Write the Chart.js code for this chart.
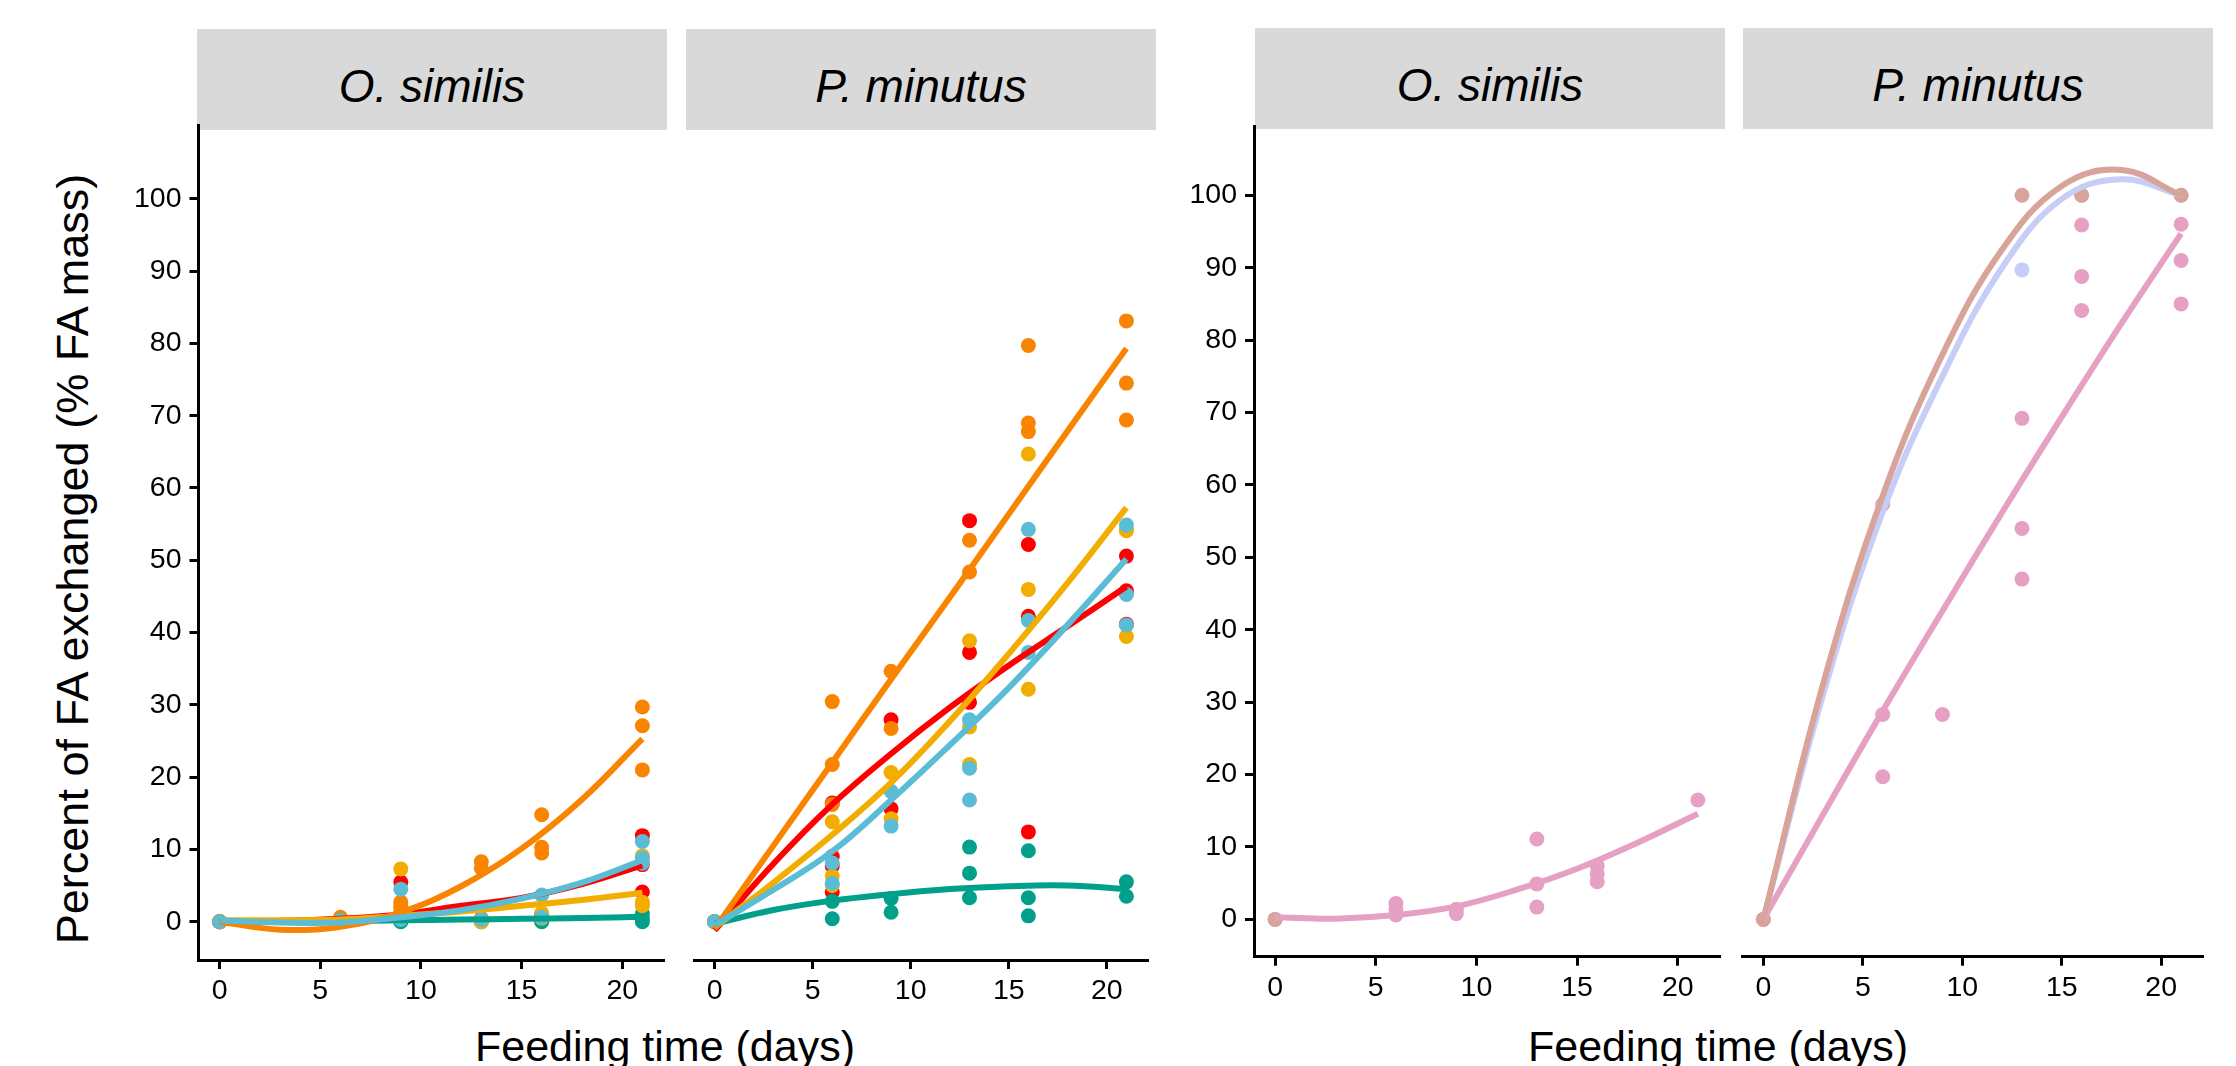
<!DOCTYPE html>
<html>
<head>
<meta charset="utf-8">
<title>FA exchange over feeding time</title>
<script src="https://cdn.jsdelivr.net/npm/chart.js@4.4.0/dist/chart.umd.min.js"></script>
<style>
  html, body { margin: 0; padding: 0; background: #fff; }
  body { width: 2236px; height: 1066px; position: relative; overflow: hidden; font-family: 'Liberation Sans', Arial, sans-serif; color: #000; }
  canvas { position: absolute; }
  .strip { position: absolute; background: #d9d9d9; }
  .strip span { position: absolute; left: 0; right: 0; text-align: center; font-style: italic; font-size: 46px; line-height: 46px; white-space: nowrap; }
  .xtitle { position: absolute; font-size: 43px; line-height: 43px; white-space: nowrap; transform: translateX(-50%); }
  .ytitle { position: absolute; font-size: 45px; line-height: 45px; white-space: nowrap; transform: translate(-50%, -50%) rotate(-90deg); }
</style>
</head>
<body>

<div class="strip" style="left:197px; top:29px; width:470px; height:101px;"><span style="top:34px;">O. similis</span></div>
<div class="strip" style="left:686px; top:29px; width:470px; height:101px;"><span style="top:34px;">P. minutus</span></div>
<div class="strip" style="left:1255px; top:28px; width:470px; height:101px;"><span style="top:34px;">O. similis</span></div>
<div class="strip" style="left:1743px; top:28px; width:470px; height:101px;"><span style="top:34px;">P. minutus</span></div>

<div class="ytitle" style="left:72px; top:559px;">Percent of FA exchanged (% FA mass)</div>
<div class="xtitle" style="left:665px; top:1025px;">Feeding time (days)</div>
<div class="xtitle" style="left:1718px; top:1025px;">Feeding time (days)</div>

<script>
// axis ticks
const dayTicks = [0, 5, 10, 15, 20];
const pctTicks = [0, 10, 20, 30, 40, 50, 60, 70, 80, 90, 100];
// days at which the fitted curves are sampled
const fitDays = [0, 3, 6, 9, 12, 15, 18, 21];

// colours (Darjeeling1 for the left pair, GrandBudapest2 for the right pair)
const leftColours = ['#FF0000', '#00A08A', '#F2AD00', '#F98400', '#5BBCD6'];
const rightColours = ['#E6A0C4', '#C6CDF7', '#D8A499'];

// ---- left pair, O. similis: [day, %] ----
const simRed = [[0, 0], [0, 0], [9, 5.5], [9, 1.0], [13, 0.4], [16, 1.0], [16, 0.3], [21, 11.9], [21, 7.9], [21, 4.1]];
const simTeal = [[0, 0], [6, 0], [9, 0], [9, 0.1], [13, 0], [13, 0.2], [16, 0], [16, 0.1], [21, 1.1], [21, 0.4], [21, 0]];
const simYellow = [[0, 0], [6, 0.3], [9, 7.3], [9, 1.8], [13, 0], [13, 0.3], [16, 0.5], [16, 1.2], [21, 9.1], [21, 2.7], [21, 2.2]];
const simOrange = [[0, 0], [6, 0.6], [6, 0.4], [9, 2.7], [9, 2.1], [9, 1.2], [13, 8.3], [13, 7.4], [16, 14.8], [16, 10.3], [16, 9.5], [21, 29.7], [21, 27.1], [21, 21.0]];
const simBlue = [[0, 0], [6, 0.2], [9, 4.5], [9, 0.3], [13, 0.3], [16, 3.7], [16, 0.6], [21, 11.1], [21, 8.8], [21, 8.1]];

const simRedFit = [0, 0.1, 0.4, 1.0, 2.2, 3.3, 5.2, 7.8];
const simTealFit = [0, 0.05, 0.1, 0.2, 0.3, 0.4, 0.5, 0.7];
const simYellowFit = [0.2, 0.2, 0.3, 0.8, 1.4, 2.2, 3.0, 4.0];
const simOrangeFit = [0, -1.1, -0.7, 1.3, 4.9, 10.1, 16.9, 25.3];
const simBlueFit = [0.2, -0.1, -0.1, 0.6, 1.6, 3.2, 5.4, 8.5];

// ---- left pair, P. minutus ----
const minRed = [[0, 0], [6, 16.4], [6, 9.0], [6, 7.7], [6, 4.1], [9, 27.9], [9, 15.6], [13, 55.4], [13, 37.2], [13, 30.3], [16, 52.1], [16, 42.2], [16, 12.4], [21, 50.5], [21, 45.7], [21, 41.1]];
const minTeal = [[0, 0], [6, 2.8], [6, 0.4], [9, 3.2], [9, 1.3], [13, 10.3], [13, 6.7], [13, 3.3], [16, 9.8], [16, 3.3], [16, 0.8], [21, 5.5], [21, 3.5]];
const minYellow = [[0, 0], [6, 13.8], [6, 6.3], [6, 5.0], [9, 20.6], [9, 14.2], [13, 38.8], [13, 26.9], [13, 21.7], [16, 64.6], [16, 45.9], [16, 32.1], [21, 54.2], [21, 54.0], [21, 39.4]];
const minOrange = [[0, 0], [6, 30.4], [6, 21.7], [6, 16.2], [9, 34.6], [9, 26.7], [13, 52.7], [13, 48.3], [16, 79.6], [16, 68.9], [16, 67.7], [21, 83.0], [21, 74.4], [21, 69.3]];
const minBlue = [[0, 0], [6, 8.1], [6, 5.3], [9, 18.0], [9, 13.2], [13, 27.9], [13, 21.2], [13, 16.8], [16, 54.2], [16, 41.6], [16, 37.2], [21, 54.8], [21, 45.2], [21, 41.0]];

const minRedFit = [-1.2, 8.0, 16.2, 23.2, 29.6, 35.4, 40.8, 46.3];
const minTealFit = [-0.3, 1.6, 2.9, 3.8, 4.5, 4.9, 5.0, 4.5];
const minYellowFit = [-0.8, 5.4, 12.0, 19.2, 27.7, 37.0, 46.8, 57.2];
const minOrangeFit = [-1.0, 10.5, 22.0, 33.5, 44.8, 56.3, 67.8, 79.2];
const minBlueFit = [-0.5, 4.4, 9.7, 16.8, 24.4, 32.3, 41.0, 50.1];

// ---- right pair ----
const simPink = [[0, 0], [6, 2.2], [6, 1.4], [6, 0.6], [9, 1.4], [9, 0.8], [13, 11.1], [13, 4.9], [13, 1.7], [16, 7.4], [16, 6.3], [16, 5.2], [21, 16.5]];
const simLavender = [[0, 0]];
const simTan = [[0, 0]];
const simPinkFit = [0.3, 0.1, 0.6, 1.8, 4.1, 7.0, 10.6, 14.6];

const minPink = [[0, 0], [6, 57.3], [6, 28.3], [6, 19.7], [9, 28.3], [13, 69.2], [13, 54.0], [13, 47.0], [16, 95.9], [16, 88.8], [16, 84.1], [21, 96.0], [21, 91.0], [21, 85.0]];
const minLavender = [[0, 0], [13, 89.7], [16, 100], [21, 100]];
const minTan = [[0, 0], [13, 100], [16, 100], [21, 100]];
const minPinkFit = [0, 14.5, 28.8, 42.6, 56.2, 69.4, 82.3, 94.7];
const minLavenderFit = [0, 31.0, 56.3, 75.0, 90.0, 99.5, 102.2, 100];
const minTanFit = [0, 32.5, 58.5, 78.0, 92.5, 101.3, 103.5, 100];

Chart.defaults.font.family = "'Liberation Sans', Arial, sans-serif";
Chart.defaults.color = '#000';

function pts(list) {
  return list.map(([x, y]) => ({ x: x, y: y }));
}

function curve(vals) {
  return fitDays.map((x, i) => ({ x: x, y: vals[i] }));
}

// one facet panel on its own canvas; f holds canvas box and plot area edges
function buildPanel(f, groups) {
  const cv = document.createElement('canvas');
  cv.width = f.width;
  cv.height = f.height;
  cv.style.left = f.left + 'px';
  cv.style.top = f.top + 'px';
  document.body.appendChild(cv);

  const n = groups.length;
  const datasets = [];
  groups.forEach((g, i) => {
    datasets.push({
      data: pts(g.obs),
      showLine: false,
      backgroundColor: g.colour,
      borderColor: g.colour,
      pointRadius: 7.5,
      pointBorderWidth: 0,
      pointHoverRadius: 7.5,
      order: 20 + n - i
    });
    if (g.fit) {
      datasets.push({
        data: curve(g.fit),
        showLine: true,
        borderColor: g.colour,
        borderWidth: 6,
        pointRadius: 0,
        tension: 0.4,
        fill: false,
        order: n - i
      });
    }
  });

  const axisGrid = { drawOnChartArea: false, drawTicks: true, tickLength: 9, lineWidth: 3, color: '#000' };
  const axisBorder = { display: true, width: 3, color: '#000' };

  new Chart(cv, {
    type: 'scatter',
    data: { datasets: datasets },
    options: {
      responsive: false,
      animation: false,
      devicePixelRatio: 1,
      events: [],
      layout: {
        padding: {
          left: f.showY ? 0 : f.areaLeft - f.left,
          right: f.left + f.width - f.areaRight,
          top: f.areaTop - f.top,
          bottom: 0
        }
      },
      plugins: { legend: { display: false }, tooltip: { enabled: false } },
      scales: {
        x: {
          type: 'linear',
          min: -1.05,
          max: 22.05,
          afterBuildTicks: s => { s.ticks = dayTicks.map(v => ({ value: v })); },
          afterFit: s => { s.height = f.top + f.height - f.areaBottom; },
          grid: axisGrid,
          border: axisBorder,
          ticks: { font: { size: 28.5 }, color: '#000', padding: 5, maxRotation: 0, autoSkip: false }
        },
        y: {
          type: 'linear',
          display: f.showY,
          min: f.yMin,
          max: f.yMax,
          afterBuildTicks: s => { s.ticks = pctTicks.map(v => ({ value: v })); },
          afterFit: s => { s.width = f.areaLeft - f.left; },
          grid: axisGrid,
          border: axisBorder,
          ticks: { font: { size: 28.5 }, color: '#000', padding: 8, autoSkip: false }
        }
      }
    }
  });
}

const leftY = { yMin: -5.3, yMax: 110.2, areaTop: 124, areaBottom: 960 };
const rightY = { yMin: -5.15, yMax: 109.57, areaTop: 126, areaBottom: 956.7 };

buildPanel(Object.assign({ left: 0, top: 100, width: 680, height: 940, areaLeft: 198.5, areaRight: 663.5, showY: true }, leftY), [
  { obs: simRed, fit: simRedFit, colour: leftColours[0] },
  { obs: simTeal, fit: simTealFit, colour: leftColours[1] },
  { obs: simYellow, fit: simYellowFit, colour: leftColours[2] },
  { obs: simOrange, fit: simOrangeFit, colour: leftColours[3] },
  { obs: simBlue, fit: simBlueFit, colour: leftColours[4] }
]);

buildPanel(Object.assign({ left: 670, top: 100, width: 490, height: 940, areaLeft: 682, areaRight: 1147, showY: false }, leftY), [
  { obs: minRed, fit: minRedFit, colour: leftColours[0] },
  { obs: minTeal, fit: minTealFit, colour: leftColours[1] },
  { obs: minYellow, fit: minYellowFit, colour: leftColours[2] },
  { obs: minOrange, fit: minOrangeFit, colour: leftColours[3] },
  { obs: minBlue, fit: minBlueFit, colour: leftColours[4] }
]);

buildPanel(Object.assign({ left: 1160, top: 100, width: 575, height: 940, areaLeft: 1254, areaRight: 1719, showY: true }, rightY), [
  { obs: simPink, fit: simPinkFit, colour: rightColours[0] },
  { obs: simLavender, colour: rightColours[1] },
  { obs: simTan, colour: rightColours[2] }
]);

buildPanel(Object.assign({ left: 1735, top: 100, width: 501, height: 940, areaLeft: 1737, areaRight: 2202, showY: false }, rightY), [
  { obs: minPink, fit: minPinkFit, colour: rightColours[0] },
  { obs: minLavender, fit: minLavenderFit, colour: rightColours[1] },
  { obs: minTan, fit: minTanFit, colour: rightColours[2] }
]);
</script>
</body>
</html>
